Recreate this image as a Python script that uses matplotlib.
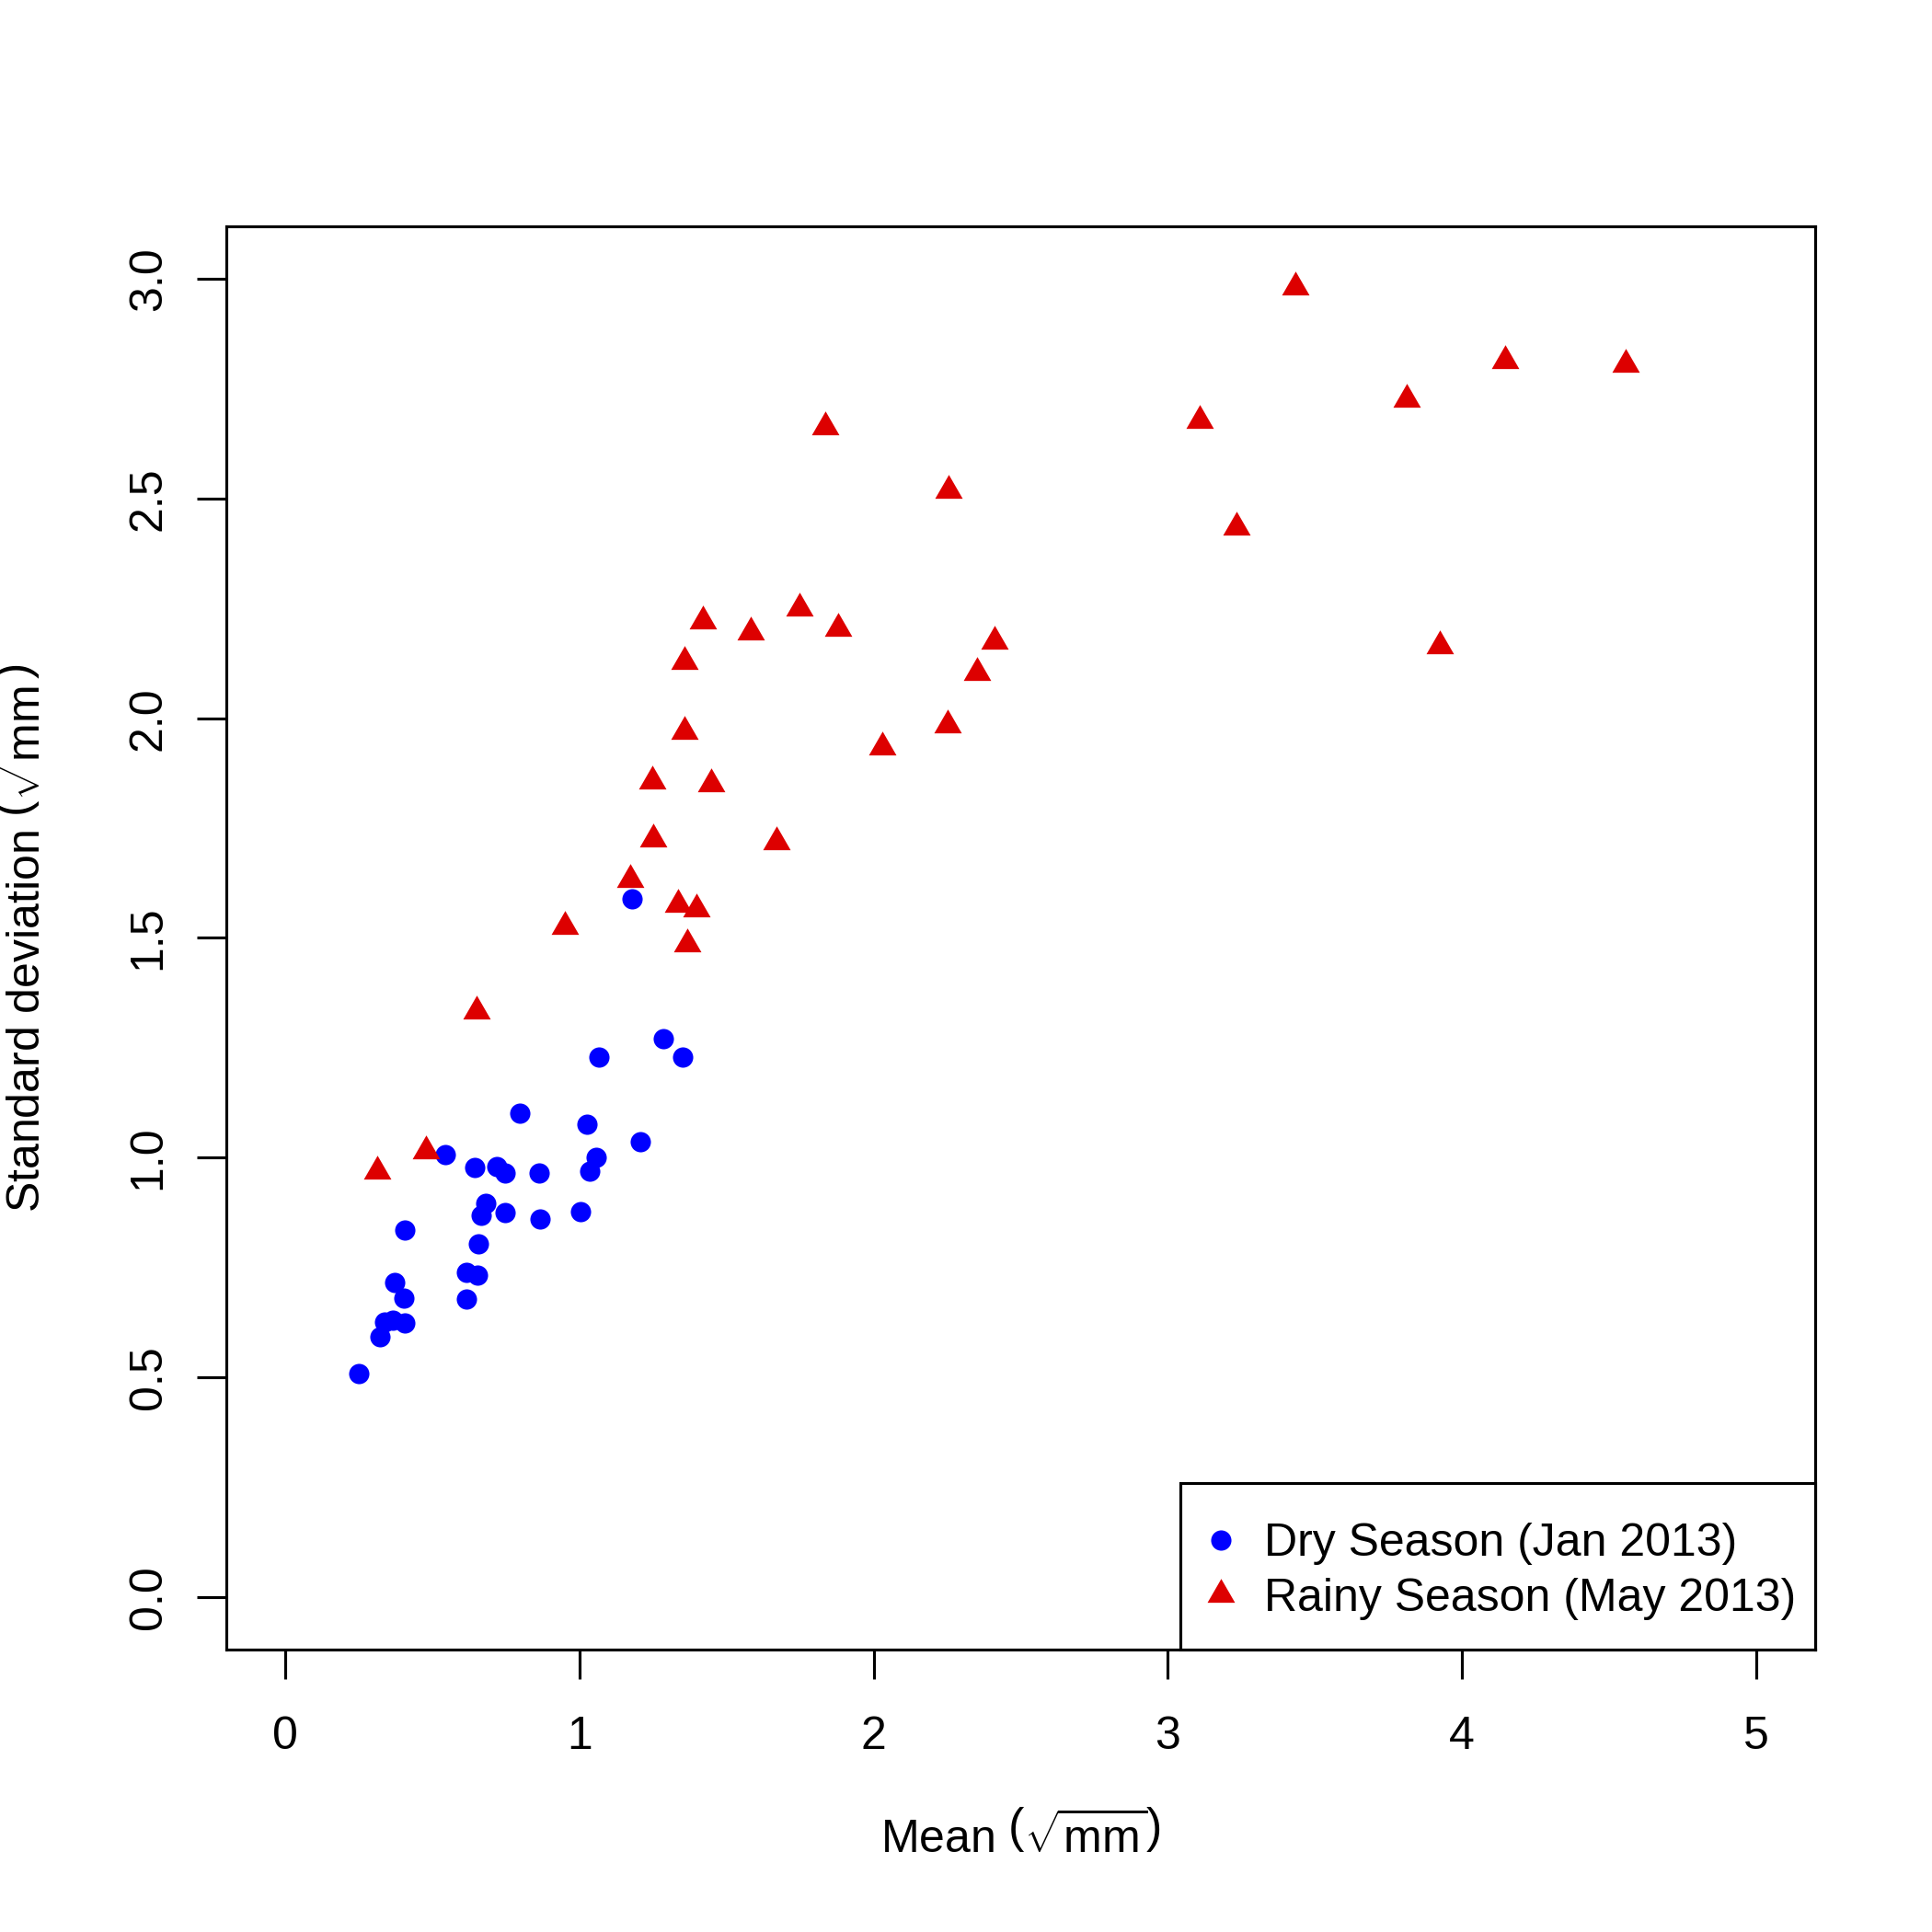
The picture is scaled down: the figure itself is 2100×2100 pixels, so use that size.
import numpy as np
import matplotlib
matplotlib.use('Agg')
import matplotlib.pyplot as plt
from matplotlib.path import Path
from matplotlib.patches import Rectangle

plt.rcParams['font.family'] = ['Liberation Sans', 'DejaVu Sans']
plt.rcParams['mathtext.fontset'] = 'custom'
plt.rcParams['mathtext.rm'] = 'Liberation Sans'
plt.rcParams['mathtext.it'] = 'Liberation Sans:italic'
plt.rcParams['mathtext.bf'] = 'Liberation Sans:bold'

# Dry season (Jan 2013): mean and standard deviation, sqrt(mm)
dry_mean = [0.250, 0.321, 0.337, 0.367, 0.406, 0.373, 0.403, 0.406, 0.546, 0.615,
            0.616, 0.654, 0.657, 0.646, 0.665, 0.683, 0.721, 0.749, 0.749, 0.799,
            0.864, 0.867, 1.004, 1.027, 1.036, 1.058, 1.068, 1.208, 1.179, 1.285,
            1.351]
dry_sd = [0.509, 0.591, 0.625, 0.630, 0.624, 0.715, 0.681, 0.835, 1.007, 0.738,
          0.678, 0.733, 0.803, 0.977, 0.868, 0.895, 0.980, 0.964, 0.874, 1.101,
          0.965, 0.861, 0.876, 1.075, 0.970, 1.000, 1.229, 1.036, 1.588, 1.271,
          1.229]

# Rainy season (May 2013)
rainy_mean = [0.313, 0.480, 0.650, 0.952, 1.172, 1.249, 1.250, 1.335, 1.398, 1.366,
              1.356, 1.357, 1.419, 1.449, 1.582, 1.669, 1.749, 1.836, 1.878, 2.031,
              2.256, 2.252, 2.352, 2.411, 3.107, 3.235, 3.432, 3.812, 3.926, 4.146,
              4.557]
rainy_sd = [0.968, 1.015, 1.333, 1.526, 1.632, 1.856, 1.726, 1.577, 1.565, 1.486,
            1.970, 2.129, 2.221, 1.851, 2.196, 1.719, 2.251, 2.663, 2.204, 1.935,
            2.518, 1.984, 2.104, 2.175, 2.677, 2.434, 2.981, 2.726, 2.165, 2.815,
            2.805]

labels = ['Dry Season (Jan 2013)', 'Rainy Season (May 2013)']
x_ticks = [0, 1, 2, 3, 4, 5]
y_ticks = [0.0, 0.5, 1.0, 1.5, 2.0, 2.5, 3.0]

# equilateral triangle centred on its centroid (like R pch 17)
tri = Path([(0, 1), (-0.866, -0.5), (0.866, -0.5), (0, 1)],
           [Path.MOVETO, Path.LINETO, Path.LINETO, Path.CLOSEPOLY])

fig = plt.figure(figsize=(7, 7), dpi=300)
ax = fig.add_axes([0.1171, 0.1462, 0.8224, 0.7367])

ax.plot(dry_mean, dry_sd, linestyle='none', marker='o', markersize=5.3,
        markerfacecolor='#0000FF', markeredgewidth=0, label=labels[0])
ax.plot(rainy_mean, rainy_sd, linestyle='none', marker=tri, markersize=8.3,
        markerfacecolor='#DD0000', markeredgewidth=0, label=labels[1])

ax.set_xlim(-0.2, 5.2)
ax.set_ylim(-0.12, 3.12)
ax.set_xticks(x_ticks)
ax.set_xticklabels([str(t) for t in x_ticks])
ax.set_yticks(y_ticks)
ax.set_yticklabels(['%.1f' % t for t in y_ticks], rotation=90, va='center')

for s in ax.spines.values():
    s.set_linewidth(0.75)
ax.tick_params(direction='out', length=7.7, width=0.75, labelsize=12)
ax.tick_params(axis='x', pad=9.5)
ax.tick_params(axis='y', pad=7)

ax.set_xlabel(r'Mean $\left(\sqrt{\mathrm{mm}}\right)$', fontsize=12)
ax.xaxis.set_label_coords(0.5, -0.115)
ax.set_ylabel(r'Standard deviation $\left(\sqrt{\mathrm{mm}}\right)$', fontsize=12)
ax.yaxis.set_label_coords(-0.111, 0.5)

# legend box flush with the bottom-right corner, like R's legend("bottomright")
ax.add_patch(Rectangle((0.6005, 0), 0.3995, 0.1167, transform=ax.transAxes,
                       facecolor='white', edgecolor='black', linewidth=0.75,
                       zorder=4, clip_on=False))
leg = ax.legend(loc='center left', bbox_to_anchor=(0.6115, 0.055),
                borderaxespad=0, borderpad=0, frameon=False, fontsize=12,
                handlelength=1.0, handletextpad=0.44, labelspacing=0.27)
leg.set_zorder(5)

fig.savefig('out.png', dpi=300, facecolor='white')
